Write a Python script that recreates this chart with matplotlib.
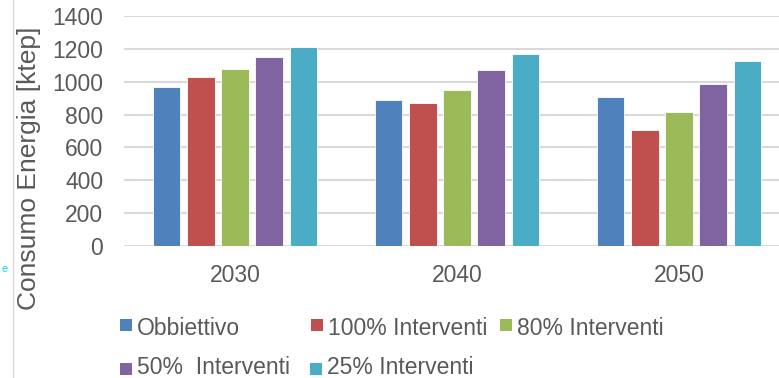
import numpy as np
import matplotlib
matplotlib.use("Agg")
import matplotlib.pyplot as plt
from matplotlib.patches import Rectangle

# Consumo energetico per scenario
anni = ["2030", "2040", "2050"]
scenari = ["Obbiettivo", "100% Interventi", "80% Interventi", "50%  Interventi", "25% Interventi"]
obbiettivo = [970, 890, 905]
interventi_100 = [1030, 868, 707]
interventi_80 = [1080, 950, 817]
interventi_50 = [1150, 1070, 987]
interventi_25 = [1210, 1170, 1127]
serie = [obbiettivo, interventi_100, interventi_80, interventi_50, interventi_25]
colori = ["#4F81BD", "#C0504D", "#9BBB59", "#8064A2", "#4BACC6"]
yticks = [0, 200, 400, 600, 800, 1000, 1200, 1400]

W, H = 779, 378
plt.rcParams['font.family'] = ['Liberation Sans', 'DejaVu Sans']
testo = "#595959"

fig = plt.figure(figsize=(W / 100, H / 100), dpi=100)

def fx(px):
    return px / W

def fy(py):
    return 1 - py / H

# area del grafico (il lato destro esce dall'immagine)
ax = fig.add_axes([fx(124), fy(246), fx(790) - fx(124), fy(16) - fy(246)])

x = np.arange(len(anni))
passo = 0.154
larghezza = 0.125
for i, (valori, col) in enumerate(zip(serie, colori)):
    ax.bar(x + (i - 2) * passo, valori, width=larghezza, color=col,
           edgecolor="white", linewidth=0.6, zorder=3, label=scenari[i])

ax.set_xlim(-0.5, 2.5)
ax.set_ylim(0, 1400)
ax.set_yticks(yticks)
ax.set_xticks(x)
ax.set_xticklabels(anni)
ax.tick_params(axis="both", length=0, labelsize=16.5, colors=testo)
ax.tick_params(axis="y", pad=15)
ax.tick_params(axis="x", pad=13)
ax.grid(axis="y", color="#d9d9d9", linewidth=1.5, zorder=0)
for s in ax.spines.values():
    s.set_visible(False)
ax.set_clip_on(False)

# etichetta asse y
fig.text(fx(29), fy(168), "Consumo Energia [ktep]", rotation=90,
         ha="center", va="center", fontsize=19, color=testo)

# legenda su due righe
voci = [(120, 319, 335), (311, 319, 335), (500, 319, 335),
        (120, 363, 374), (310, 363, 374)]
for (mx, my, base), nome, col in zip(voci, scenari, colori):
    fig.patches.append(Rectangle((fx(mx), fy(my + 12)), fx(12), 12 / H,
                                 transform=fig.transFigure, facecolor=col,
                                 edgecolor="none"))
    fig.text(fx(mx + 17), fy(base), nome, ha="left", va="baseline",
             fontsize=16.5, color=testo)

# bordo sottile a sinistra e lettera residua
fig.add_artist(plt.Line2D([fx(12.7), fx(12.7)], [0, 1], transform=fig.transFigure,
                          color="#d9d9d9", linewidth=1))
fig.text(fx(2), fy(272), "e", fontsize=8, color="#00E5EE", ha="left", va="baseline")

fig.savefig("out.png", dpi=100)
